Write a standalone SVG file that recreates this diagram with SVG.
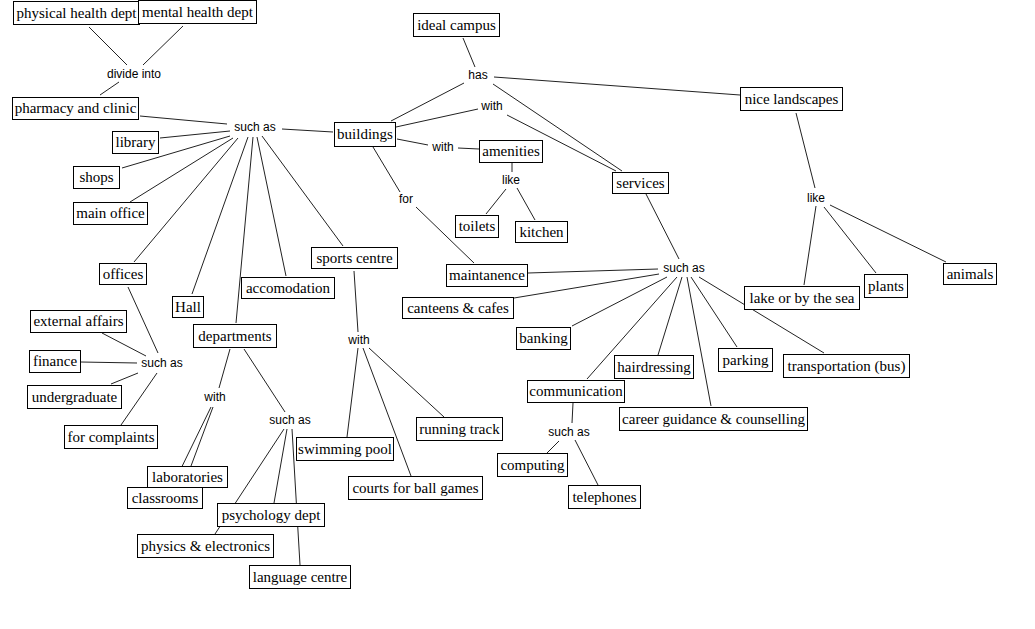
<svg xmlns="http://www.w3.org/2000/svg" width="1035" height="629" viewBox="0 0 1035 629">
<style>
.n rect{fill:#fff;stroke:#000;stroke-width:1}
.n text{font-family:"Liberation Serif","Times New Roman",serif;font-size:15px;fill:#000;text-anchor:middle}
.l text{font-family:"Liberation Sans",Arial,sans-serif;font-size:12px;fill:#000;text-anchor:middle}
#connectors line{stroke:#222;stroke-width:1}
</style>
<rect width="1035" height="629" fill="#fff"/>
<g id="connectors">
<line x1="89" y1="27" x2="127" y2="65"/>
<line x1="183" y1="26" x2="143" y2="65"/>
<line x1="119" y1="82" x2="100" y2="95"/>
<line x1="140" y1="116" x2="227" y2="124"/>
<line x1="282" y1="129" x2="333" y2="132"/>
<line x1="160" y1="138" x2="230" y2="131"/>
<line x1="122" y1="168" x2="230" y2="136"/>
<line x1="130" y1="202" x2="233" y2="138"/>
<line x1="238" y1="138" x2="134" y2="262"/>
<line x1="248" y1="137" x2="192" y2="294"/>
<line x1="253" y1="137" x2="236" y2="323"/>
<line x1="257" y1="137" x2="286" y2="276"/>
<line x1="262" y1="136" x2="343" y2="246"/>
<line x1="463" y1="38" x2="475" y2="67"/>
<line x1="494" y1="77" x2="740" y2="95"/>
<line x1="464" y1="83" x2="391" y2="121"/>
<line x1="493" y1="84" x2="622" y2="171"/>
<line x1="396" y1="127" x2="478" y2="109"/>
<line x1="507" y1="115" x2="616" y2="171"/>
<line x1="397" y1="139" x2="428" y2="145"/>
<line x1="458" y1="148" x2="479" y2="149"/>
<line x1="512" y1="163" x2="512" y2="172"/>
<line x1="506" y1="189" x2="486" y2="214"/>
<line x1="517" y1="188" x2="535" y2="220"/>
<line x1="646" y1="194" x2="679" y2="259"/>
<line x1="373" y1="147" x2="400" y2="192"/>
<line x1="416" y1="207" x2="474" y2="263"/>
<line x1="528" y1="273" x2="658" y2="269"/>
<line x1="659" y1="274" x2="514" y2="298"/>
<line x1="667" y1="277" x2="572" y2="326"/>
<line x1="677" y1="277" x2="587" y2="379"/>
<line x1="682" y1="277" x2="658" y2="355"/>
<line x1="687" y1="277" x2="711" y2="406"/>
<line x1="691" y1="277" x2="737" y2="347"/>
<line x1="699" y1="277" x2="824" y2="353"/>
<line x1="796" y1="113" x2="815" y2="188"/>
<line x1="816" y1="206" x2="804" y2="285"/>
<line x1="824" y1="207" x2="876" y2="273"/>
<line x1="830" y1="205" x2="946" y2="262"/>
<line x1="128" y1="287" x2="158" y2="353"/>
<line x1="102" y1="333" x2="146" y2="356"/>
<line x1="81" y1="362" x2="137" y2="363"/>
<line x1="111" y1="384" x2="138" y2="373"/>
<line x1="121" y1="425" x2="157" y2="373"/>
<line x1="230" y1="349" x2="219" y2="388"/>
<line x1="244" y1="349" x2="285" y2="412"/>
<line x1="211" y1="407" x2="172" y2="487"/>
<line x1="213" y1="407" x2="191" y2="466"/>
<line x1="284" y1="429" x2="215" y2="534"/>
<line x1="287" y1="429" x2="274" y2="503"/>
<line x1="292" y1="429" x2="300" y2="565"/>
<line x1="354" y1="271" x2="358" y2="332"/>
<line x1="358" y1="348" x2="347" y2="437"/>
<line x1="363" y1="348" x2="411" y2="476"/>
<line x1="369" y1="348" x2="444" y2="417"/>
<line x1="573" y1="403" x2="572" y2="423"/>
<line x1="559" y1="441" x2="547" y2="453"/>
<line x1="575" y1="440" x2="598" y2="485"/>
</g>
<g class="l">
<g id="lbl-divide-into"><text x="134" y="78">divide into</text></g>
<g id="lbl-such-as-1"><text x="255" y="131">such as</text></g>
<g id="lbl-has"><text x="478" y="79">has</text></g>
<g id="lbl-with-1"><text x="492" y="110">with</text></g>
<g id="lbl-with-2"><text x="443" y="151">with</text></g>
<g id="lbl-like-1"><text x="511" y="184">like</text></g>
<g id="lbl-for"><text x="406" y="203">for</text></g>
<g id="lbl-such-as-2"><text x="684" y="272">such as</text></g>
<g id="lbl-like-2"><text x="816" y="202">like</text></g>
<g id="lbl-such-as-3"><text x="162" y="367">such as</text></g>
<g id="lbl-with-3"><text x="215" y="401">with</text></g>
<g id="lbl-such-as-4"><text x="290" y="424">such as</text></g>
<g id="lbl-with-4"><text x="359" y="344">with</text></g>
<g id="lbl-such-as-5"><text x="569" y="436">such as</text></g>
</g>
<g class="n">
<g id="n-physical"><rect x="13.5" y="1.5" width="126" height="23"/><text x="76.5" y="18">physical health dept</text></g>
<g id="n-mental"><rect x="138.5" y="0.5" width="118" height="23"/><text x="197.5" y="17">mental health dept</text></g>
<g id="n-pharmacy"><rect x="12.5" y="97.5" width="126" height="22"/><text x="75.5" y="113">pharmacy and clinic</text></g>
<g id="n-library"><rect x="112.5" y="131.5" width="46" height="22"/><text x="135.5" y="147">library</text></g>
<g id="n-shops"><rect x="73.5" y="166.5" width="46" height="22"/><text x="96.5" y="182">shops</text></g>
<g id="n-main-office"><rect x="73.5" y="202.5" width="74" height="22"/><text x="110.5" y="218">main office</text></g>
<g id="n-buildings"><rect x="334.5" y="122.5" width="61" height="24"/><text x="365" y="139">buildings</text></g>
<g id="n-ideal"><rect x="413.5" y="13.5" width="86" height="23"/><text x="456.5" y="30">ideal campus</text></g>
<g id="n-amenities"><rect x="479.5" y="140.5" width="63" height="22"/><text x="511" y="156">amenities</text></g>
<g id="n-toilets"><rect x="455.5" y="215.5" width="43" height="22"/><text x="477" y="231">toilets</text></g>
<g id="n-kitchen"><rect x="515.5" y="221.5" width="52" height="21"/><text x="541.5" y="237">kitchen</text></g>
<g id="n-services"><rect x="612.5" y="172.5" width="56" height="21"/><text x="640.5" y="188">services</text></g>
<g id="n-landscapes"><rect x="740.5" y="87.5" width="102" height="23"/><text x="791.5" y="104">nice landscapes</text></g>
<g id="n-sports"><rect x="311.5" y="247.5" width="86" height="21"/><text x="354.5" y="263">sports centre</text></g>
<g id="n-offices"><rect x="99.5" y="263.5" width="47" height="21"/><text x="123" y="279">offices</text></g>
<g id="n-hall"><rect x="172.5" y="296.5" width="31" height="21"/><text x="188" y="312">Hall</text></g>
<g id="n-accomodation"><rect x="241.5" y="277.5" width="93" height="21"/><text x="288" y="293">accomodation</text></g>
<g id="n-departments"><rect x="193.5" y="324.5" width="83" height="23"/><text x="235" y="341">departments</text></g>
<g id="n-maintanence"><rect x="446.5" y="264.5" width="81" height="22"/><text x="487" y="280">maintanence</text></g>
<g id="n-canteens"><rect x="402.5" y="297.5" width="111" height="21"/><text x="458" y="313">canteens &amp; cafes</text></g>
<g id="n-banking"><rect x="516.5" y="327.5" width="54" height="22"/><text x="543.5" y="343">banking</text></g>
<g id="n-lake"><rect x="744.5" y="286.5" width="115" height="23"/><text x="802" y="303">lake or by the sea</text></g>
<g id="n-plants"><rect x="864.5" y="274.5" width="43" height="23"/><text x="886" y="291">plants</text></g>
<g id="n-animals"><rect x="943.5" y="263.5" width="53" height="21"/><text x="970" y="279">animals</text></g>
<g id="n-external"><rect x="30.5" y="310.5" width="96" height="22"/><text x="78.5" y="326">external affairs</text></g>
<g id="n-finance"><rect x="29.5" y="350.5" width="51" height="22"/><text x="55" y="366">finance</text></g>
<g id="n-undergraduate"><rect x="27.5" y="385.5" width="94" height="23"/><text x="74.5" y="402">undergraduate</text></g>
<g id="n-complaints"><rect x="64.5" y="425.5" width="93" height="23"/><text x="111" y="442">for complaints</text></g>
<g id="n-hairdressing"><rect x="614.5" y="355.5" width="79" height="23"/><text x="654" y="372">hairdressing</text></g>
<g id="n-parking"><rect x="718.5" y="348.5" width="54" height="23"/><text x="745.5" y="365">parking</text></g>
<g id="n-transportation"><rect x="783.5" y="354.5" width="126" height="23"/><text x="846.5" y="371">transportation (bus)</text></g>
<g id="n-communication"><rect x="527.5" y="380.5" width="97" height="22"/><text x="576" y="396">communication</text></g>
<g id="n-career"><rect x="619.5" y="407.5" width="188" height="23"/><text x="713.5" y="424">career guidance &amp; counselling</text></g>
<g id="n-running"><rect x="416.5" y="417.5" width="86" height="23"/><text x="459.5" y="434">running track</text></g>
<g id="n-swimming"><rect x="296.5" y="437.5" width="97" height="23"/><text x="345" y="454">swimming pool</text></g>
<g id="n-computing"><rect x="497.5" y="453.5" width="70" height="23"/><text x="532.5" y="470">computing</text></g>
<g id="n-telephones"><rect x="568.5" y="485.5" width="72" height="23"/><text x="604.5" y="502">telephones</text></g>
<g id="n-courts"><rect x="348.5" y="476.5" width="134" height="23"/><text x="415.5" y="493">courts for ball games</text></g>
<g id="n-classrooms"><rect x="127.5" y="487.5" width="75" height="21"/><text x="165" y="503">classrooms</text></g>
<g id="n-laboratories"><rect x="147.5" y="466.5" width="80" height="21"/><text x="187.5" y="482">laboratories</text></g>
<g id="n-physics"><rect x="137.5" y="534.5" width="136" height="23"/><text x="205.5" y="551">physics &amp; electronics</text></g>
<g id="n-psychology"><rect x="217.5" y="503.5" width="107" height="23"/><text x="271" y="520">psychology dept</text></g>
<g id="n-language"><rect x="249.5" y="565.5" width="101" height="23"/><text x="300" y="582">language centre</text></g>
</g>
</svg>
